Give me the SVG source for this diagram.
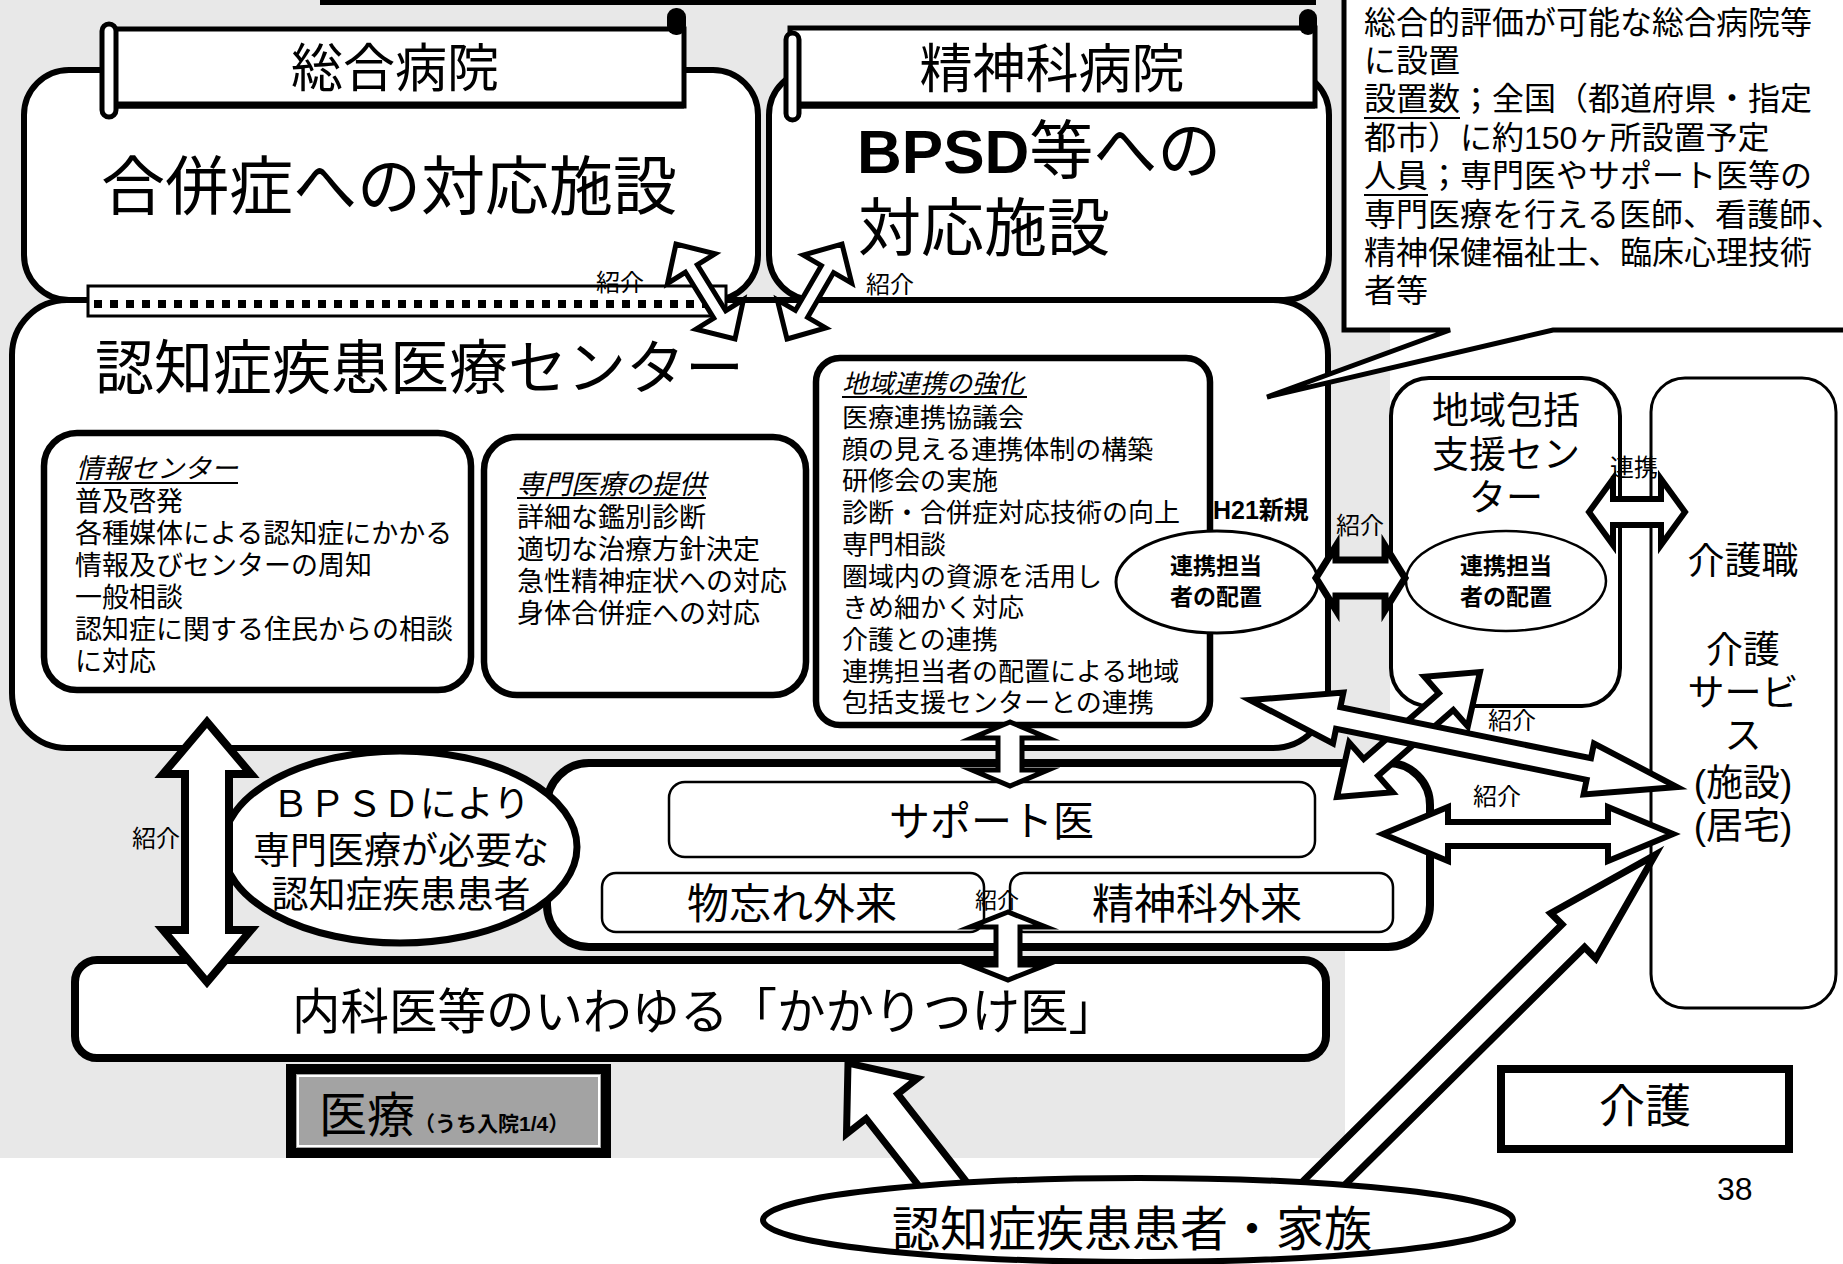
<svg xmlns="http://www.w3.org/2000/svg" width="1843" height="1264" viewBox="0 0 1843 1264">
<defs>
<style>
text{font-family:"Liberation Sans","Noto Sans CJK JP",sans-serif;fill:#000}
.b{fill:#fff;stroke:#000}
.it{font-style:italic}
.bd{font-weight:bold}
.lbl{font-size:24px}
.arr{fill:#fff;stroke:#000;stroke-linejoin:miter;stroke-miterlimit:10}
.mid{text-anchor:middle}
.t27{font-size:27px}
.t26{font-size:26px}
.c32{font-size:32px}
</style>
</defs>
<rect width="1843" height="1264" fill="#fff"/>
<path d="M0,0H1390V760H1345V1158H0Z" fill="#e8e8e8"/>
<line x1="320" y1="2" x2="1316" y2="2" stroke="#000" stroke-width="6"/>

<g id="general-hospital">
<rect class="b" x="24" y="70" width="734" height="230" rx="45" stroke-width="6"/>
<rect class="b" x="112" y="29" width="572" height="77" stroke-width="5"/>
<line x1="112" y1="105" x2="684" y2="105" stroke="#000" stroke-width="7"/>
<rect class="b" x="102" y="24" width="14" height="93" rx="7" stroke-width="5"/>
<rect x="667" y="8" width="19" height="27" rx="9" fill="#000"/>
<text class="mid" x="395" y="87" font-size="52">総合病院</text>
<text x="101" y="209" font-size="64">合併症への対応施設</text>
</g>

<g id="psych-hospital">
<rect class="b" x="769" y="70" width="560" height="230" rx="45" stroke-width="6"/>
<rect class="b" x="790" y="28" width="525" height="78" stroke-width="5"/>
<line x1="790" y1="105" x2="1315" y2="105" stroke="#000" stroke-width="7"/>
<rect class="b" x="786" y="33" width="13" height="87" rx="6.5" stroke-width="5"/>
<rect x="1299" y="9" width="18" height="26" rx="9" fill="#000"/>
<text class="mid" x="1052" y="88" font-size="53">精神科病院</text>
<text x="857" y="173" font-size="64"><tspan font-weight="bold" font-size="62">BPSD</tspan>等への</text>
<text x="858" y="250" font-size="63">対応施設</text>
</g>

<g id="dementia-center">
<rect class="b" x="12" y="300" width="1316" height="448" rx="55" stroke-width="6"/>
<rect class="b" x="88" y="286" width="638" height="30" stroke-width="3"/>
<line x1="94" y1="304" x2="722" y2="304" stroke="#000" stroke-width="8" stroke-dasharray="8 8"/>
<text x="95" y="389" font-size="59">認知症疾患医療センター</text>
</g>

<g id="info-center">
<rect class="b" x="44" y="433" width="427" height="257" rx="33" stroke-width="6.5"/>
<text class="t27 it" x="76" y="478">情報センター</text>
<line x1="76" y1="483" x2="238" y2="483" stroke="#000" stroke-width="2"/>
<text class="t27" x="75" y="511">普及啓発</text>
<text class="t27" x="75" y="543">各種媒体による認知症にかかる</text>
<text class="t27" x="75" y="575">情報及びセンターの周知</text>
<text class="t27" x="75" y="607">一般相談</text>
<text class="t27" x="75" y="639">認知症に関する住民からの相談</text>
<text class="t27" x="75" y="671">に対応</text>
</g>

<g id="specialist-care">
<rect class="b" x="484" y="437" width="322" height="258" rx="33" stroke-width="6.5"/>
<text class="t27 it" x="517" y="494">専門医療の提供</text>
<line x1="517" y1="498" x2="706" y2="498" stroke="#000" stroke-width="2"/>
<text class="t27" x="517" y="527">詳細な鑑別診断</text>
<text class="t27" x="517" y="559">適切な治療方針決定</text>
<text class="t27" x="517" y="591">急性精神症状への対応</text>
<text class="t27" x="517" y="623">身体合併症への対応</text>
</g>

<g id="regional-cooperation">
<rect class="b" x="816" y="358" width="394" height="367" rx="24" stroke-width="6.5"/>
<text class="t26 it" x="842" y="393">地域連携の強化</text>
<line x1="842" y1="397" x2="1027" y2="397" stroke="#000" stroke-width="2"/>
<text class="t26" x="842" y="427">医療連携協議会</text>
<text class="t26" x="842" y="459">顔の見える連携体制の構築</text>
<text class="t26" x="842" y="490">研修会の実施</text>
<text class="t26" x="842" y="522">診断・合併症対応技術の向上</text>
<text class="t26" x="842" y="554">専門相談</text>
<text class="t26" x="842" y="586">圏域内の資源を活用し</text>
<text class="t26" x="842" y="617">きめ細かく対応</text>
<text class="t26" x="842" y="649">介護との連携</text>
<text class="t26" x="842" y="681">連携担当者の配置による地域</text>
<text class="t26" x="842" y="712">包括支援センターとの連携</text>
</g>

<g id="liaison-center">
<text class="bd" x="1213" y="519" font-size="25">H21新規</text>
<ellipse class="b" cx="1217" cy="582" rx="101" ry="51" stroke-width="3"/>
<text class="bd mid" x="1216" y="574" font-size="23">連携担当</text>
<text class="bd mid" x="1216" y="605" font-size="23">者の配置</text>
</g>

<g id="community-support-center">
<rect class="b" x="1391" y="378" width="229" height="328" rx="38" stroke-width="4"/>
<text class="mid" x="1506" y="424" font-size="37">地域包括</text>
<text class="mid" x="1506" y="468" font-size="37">支援セン</text>
<text class="mid" x="1506" y="511" font-size="37">ター</text>
<ellipse class="b" cx="1506" cy="581" rx="100" ry="50" stroke-width="2.5"/>
<text class="bd mid" x="1506" y="574" font-size="23">連携担当</text>
<text class="bd mid" x="1506" y="605" font-size="23">者の配置</text>
</g>

<g id="care-service">
<rect class="b" x="1651" y="378" width="185" height="630" rx="34" stroke-width="3"/>
<text class="mid" x="1743" y="574" font-size="37">介護職</text>
<text class="mid" x="1743" y="663" font-size="37">介護</text>
<text class="mid" x="1743" y="706" font-size="37">サービ</text>
<text class="mid" x="1743" y="749" font-size="37">ス</text>
<text class="mid" x="1743" y="796" font-size="37">(施設)</text>
<text class="mid" x="1743" y="839" font-size="37">(居宅)</text>
</g>

<g id="support-group">
<rect class="b" x="547" y="763" width="883" height="184" rx="42" stroke-width="8"/>
</g>
<g id="support-doctor">
<rect class="b" x="669" y="782" width="646" height="75" rx="16" stroke-width="2.5"/>
<text x="889" y="836" font-size="41">サポート医</text>
</g>
<g id="memory-clinic">
<rect class="b" x="602" y="873" width="382" height="59" rx="14" stroke-width="2.5"/>
<text x="687" y="919" font-size="42">物忘れ外来</text>
</g>
<g id="psych-outpatient">
<rect class="b" x="1010" y="873" width="383" height="59" rx="14" stroke-width="2.5"/>
<text x="1092" y="919" font-size="42">精神科外来</text>
</g>

<g id="bpsd-patients">
<ellipse class="b" cx="400" cy="847" rx="177" ry="96" stroke-width="7"/>
<text class="mid" x="401" y="817" font-size="37">ＢＰＳＤにより</text>
<text class="mid" x="401" y="864" font-size="37">専門医療が必要な</text>
<text class="mid" x="401" y="908" font-size="37">認知症疾患患者</text>
</g>

<g id="family-doctor">
<rect class="b" x="75" y="960" width="1251" height="98" rx="22" stroke-width="8"/>
<text x="292" y="1029" font-size="48.5">内科医等のいわゆる「かかりつけ医」</text>
</g>

<g id="iryo-label">
<rect x="291" y="1069" width="315" height="84" fill="#a3a3a3" stroke="#000" stroke-width="10"/>
<rect x="298" y="1076" width="301" height="70" fill="none" stroke="#fff" stroke-width="2"/>
<text x="319" y="1132" font-size="48">医療</text>
<text class="bd" x="414" y="1131" font-size="21">（うち入院1/4）</text>
</g>

<g id="kaigo-label">
<rect class="b" x="1501" y="1069" width="288" height="80" stroke-width="8"/>
<text class="mid" x="1645" y="1122" font-size="46">介護</text>
</g>

<g id="page-number">
<text x="1717" y="1200" font-size="32">38</text>
</g>

<g id="connectors">
<polygon class="arr" stroke-width="5" points="676,244 667.5,283.4 685.4,272.3 713.8,318.1 695.9,329.2 735,339 743.5,299.6 725.7,310.7 697.3,264.9 715.1,253.8"/>
<polygon class="arr" stroke-width="5" points="787,339 825.7,327.9 807.6,317.4 833.6,272.6 851.7,283.1 842,244 803.3,255.1 821.4,265.6 795.4,310.4 777.3,299.9"/>
<text class="lbl" x="596" y="291">紹介</text>
<text class="lbl" x="866" y="293">紹介</text>
<polygon class="arr" stroke-width="8" points="207,722 163,774 185,774 185,930 163,930 207,982 251,930 229,930 229,774 251,774"/>
<text class="lbl" x="132" y="847">紹介</text>
<polygon class="arr" stroke-width="5" points="1010,722 972,738 998,738 998,770 972,770 1010,786 1048,770 1022,770 1022,738 1048,738"/>
<polygon class="arr" stroke-width="5" points="1008,912 970,927 996,927 996,965 970,965 1008,980 1046,965 1020,965 1020,927 1046,927"/>
<text x="975" y="908" font-size="22">紹介</text>
<polygon class="arr" stroke-width="7" points="1316,578 1336,610 1336,596 1385,596 1385,610 1405,578 1385,546 1385,560 1336,560 1336,546"/>
<text class="lbl" x="1336" y="534">紹介</text>
<polygon class="arr" stroke-width="6" points="1589,512 1613,545 1613,525 1661,525 1661,545 1685,512 1661,479 1661,499 1613,499 1613,479"/>
<text class="lbl" x="1610" y="476">連携</text>
<polygon class="arr" stroke-width="6" points="1337,797 1392.6,792.2 1378.1,775.7 1453.3,709.9 1467.8,726.4 1480,672 1424.4,676.8 1438.9,693.3 1363.7,759.1 1349.2,742.6"/>
<polygon class="arr" stroke-width="6" points="1250,700 1333,743.5 1336,728.8 1586.6,779.8 1583.6,794.5 1677,787 1594,743.5 1591,758.2 1340.4,707.2 1343.4,692.5"/>
<text class="lbl" x="1488" y="729">紹介</text>
<polygon class="arr" stroke-width="6" points="1383,834 1448,861 1448,846 1608,846 1608,861 1673,834 1608,807 1608,822 1448,822 1448,807"/>
<text class="lbl" x="1473" y="805">紹介</text>
<polygon class="arr" stroke-width="7" points="848,1063 846.5,1134 866.1,1118.6 940.1,1213.1 971.7,1188.5 897.7,1094 917.3,1078.6"/>
<polygon class="arr" stroke-width="7" points="1655,855 1550.8,913.2 1562,924.5 1292.1,1192 1314.7,1214.8 1584.6,947.3 1595.8,958.6"/>
</g>

<g id="patients-family">
<ellipse class="b" cx="1138" cy="1220" rx="375" ry="42" stroke-width="6"/>
<text x="892" y="1246" font-size="48">認知症疾患患者・家族</text>
</g>

<g id="callout">
<path class="b" d="M1344,-10V330H1450L1267,397L1553,330H1853V-10Z" stroke-width="5"/>
<text class="c32" x="1364" y="34">総合的評価が可能な総合病院等</text>
<text class="c32" x="1364" y="72">に設置</text>
<text class="c32" x="1364" y="110">設置数；全国（都道府県・指定</text>
<line x1="1364" y1="118" x2="1460" y2="118" stroke="#000" stroke-width="2"/>
<text class="c32" x="1364" y="149">都市）に約150ヶ所設置予定</text>
<text class="c32" x="1364" y="187">人員；専門医やサポート医等の</text>
<line x1="1364" y1="195" x2="1428" y2="195" stroke="#000" stroke-width="2"/>
<text class="c32" x="1364" y="226">専門医療を行える医師、看護師、</text>
<text class="c32" x="1364" y="264">精神保健福祉士、臨床心理技術</text>
<text class="c32" x="1364" y="302">者等</text>
</g>
</svg>
